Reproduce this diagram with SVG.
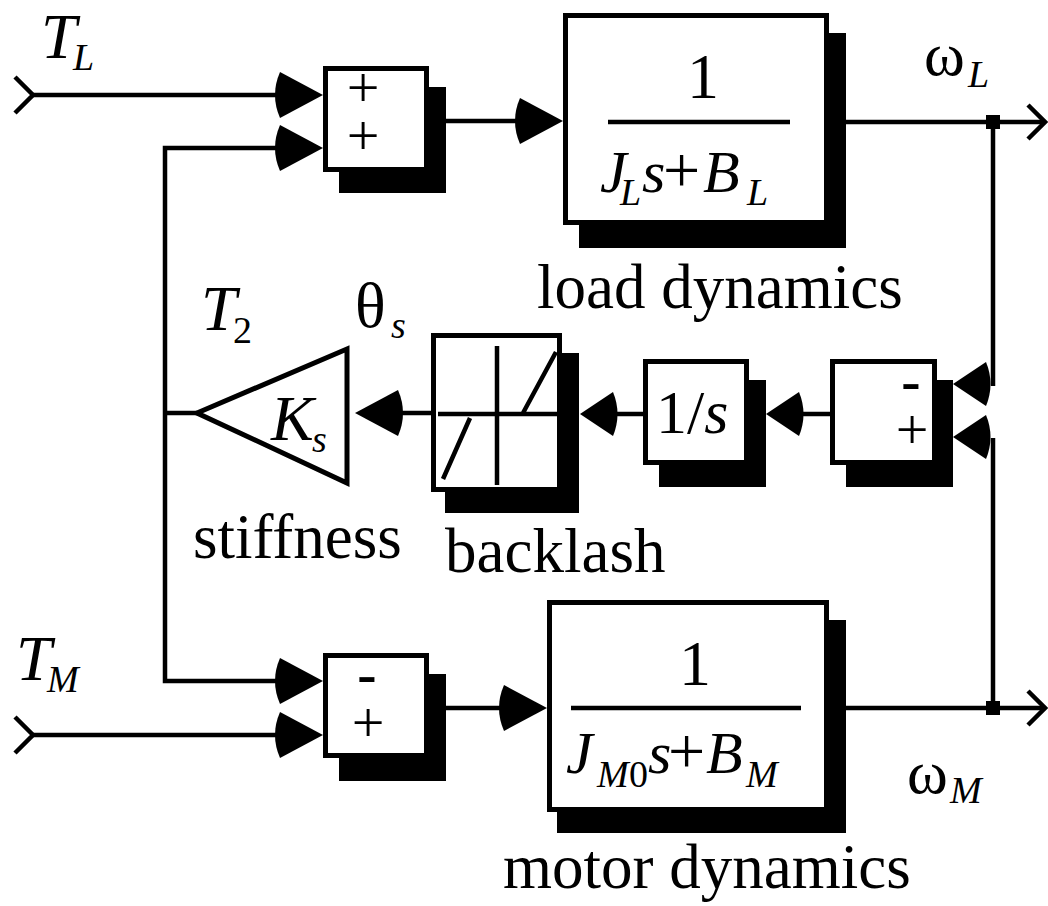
<svg xmlns="http://www.w3.org/2000/svg" xmlns:xlink="http://www.w3.org/1999/xlink" width="1048" height="906" viewBox="0 0 1048 906">
<style>
.box{fill:#fff;stroke:#000;stroke-width:5}
.sh{fill:#000}
.ln{fill:none;stroke:#000;stroke-width:4.5}
.t{font-family:"Liberation Serif","Times New Roman",serif;fill:#000}
.it{font-style:italic}
.sg{font-family:"Liberation Serif","Times New Roman",serif;font-size:58px;text-anchor:middle}
.bd{font-weight:bold}
.lb{font-family:"Liberation Serif","Times New Roman",serif;font-size:63px}
</style>
<defs>
<path id="a" d="M0,0 L-43,-23 Q-53,0 -43,23 Z" fill="#000"/>
<path id="b" d="M0,0 L-33,-22 Q-42,0 -33,22 Z" fill="#000"/>
</defs>
<g id="connectors">
<path class="ln" d="M33,95 H280"/>
<path class="ln" d="M280,148 H165 V681 H280"/>
<path class="ln" d="M165,413 H197"/>
<path class="ln" d="M33,735 H280"/>
<path class="ln" d="M446,121 H518"/>
<path class="ln" d="M446,708 H502"/>
<path class="ln" d="M846,122 H1045"/>
<path class="ln" d="M846,708 H1045"/>
<path class="ln" d="M993,122 V386"/>
<path class="ln" d="M993,438 V708"/>
<path class="ln" d="M830,414 H800"/>
<path class="ln" d="M643,414 H614"/>
<path class="ln" d="M431,413 H400"/>
<polyline class="ln" points="15,77 33,95 15,113"/>
<polyline class="ln" points="15,717 33,735 15,753"/>
<polyline class="ln" points="1028,105 1045,122 1028,139"/>
<polyline class="ln" points="1028,691 1045,708 1028,725"/>
<rect x="986" y="115" width="14" height="14" fill="#000"/>
<rect x="986" y="701" width="14" height="14" fill="#000"/>
<use xlink:href="#a" href="#a" transform="translate(323,95)"/>
<use xlink:href="#a" href="#a" transform="translate(323,148)"/>
<use xlink:href="#a" href="#a" transform="translate(323,681)"/>
<use xlink:href="#a" href="#a" transform="translate(323,735)"/>
<use xlink:href="#a" href="#a" transform="translate(563,121)"/>
<use xlink:href="#a" href="#a" transform="translate(547,708)"/>
<use xlink:href="#a" href="#a" transform="translate(355,413) rotate(180)"/>
<use xlink:href="#b" href="#b" transform="translate(580,414) rotate(180)"/>
<use xlink:href="#b" href="#b" transform="translate(766,414) rotate(180)"/>
<use xlink:href="#b" href="#b" transform="translate(953,384) rotate(180)"/>
<use xlink:href="#b" href="#b" transform="translate(953,437) rotate(180)"/>
</g>
<g id="input-TL">
<text class="t it" x="41" y="58" font-size="64">T<tspan x="73" y="70" font-size="38">L</tspan></text>
</g>
<g id="input-TM">
<text class="t it" x="16" y="680" font-size="64">T<tspan x="47" y="692" font-size="38">M</tspan></text>
</g>
<g id="sum-load">
<rect class="sh" x="339" y="87" width="107" height="106"/>
<rect class="box" x="325.5" y="68.5" width="101" height="101"/>
<text class="sg"><tspan x="363" y="107">+</tspan><tspan x="363" y="155">+</tspan></text>
</g>
<g id="load-dynamics">
<rect class="sh" x="579" y="33" width="267" height="215"/>
<rect class="box" x="565.5" y="15.5" width="261" height="207"/>
<text class="t" x="703" y="98" font-size="64" text-anchor="middle">1</text>
<line class="ln" x1="608" y1="122" x2="790" y2="122" stroke-width="5"/>
<text class="t" font-size="60"><tspan class="it" x="600" y="192">J</tspan><tspan class="it" x="620" y="205" font-size="38">L</tspan><tspan class="it" x="642" y="192">s</tspan><tspan x="663" y="192" font-size="66">+</tspan><tspan class="it" x="703" y="192">B</tspan><tspan class="it" x="747" y="205" font-size="38">L</tspan></text>
<text class="lb" x="537" y="308">load dynamics</text>
</g>
<g id="omega-L">
<text class="t" x="924" y="75" font-size="62">ω<tspan class="it" x="968" y="87" font-size="38">L</tspan></text>
</g>
<g id="stiffness">
<polygon points="197,413 347,349 347,483" fill="#fff" stroke="#000" stroke-width="5"/>
<text class="t it" x="271" y="440" font-size="64">K<tspan x="312" y="452" font-size="38">s</tspan></text>
<text class="lb" x="193" y="558">stiffness</text>
</g>
<g id="torque-T2">
<text class="t it" x="201" y="330" font-size="64">T<tspan x="233" y="343" font-size="38" font-style="normal">2</tspan></text>
</g>
<g id="theta-s">
<text class="t" x="355" y="327" font-size="64">θ<tspan class="it" x="391" y="338" font-size="38">s</tspan></text>
</g>
<g id="backlash">
<rect class="sh" x="445" y="353" width="134" height="160"/>
<rect class="box" x="433.5" y="335.5" width="126" height="154"/>
<path class="ln" d="M438,414 H558 M497,346 V485 M443,479 L470,418 M523,413 L556,352"/>
<text class="lb" x="445" y="572">backlash</text>
</g>
<g id="integrator">
<rect class="sh" x="659" y="380" width="107" height="107"/>
<rect class="box" x="645.5" y="361.5" width="101" height="101"/>
<text class="t" font-size="62" x="656" y="433">1/<tspan class="it">s</tspan></text>
</g>
<g id="sum-diff">
<rect class="sh" x="846" y="380" width="107" height="107"/>
<rect class="box" x="832.5" y="361.5" width="102" height="101"/>
<text class="sg"><tspan class="bd" x="911" y="400">-</tspan><tspan x="912" y="449">+</tspan></text>
</g>
<g id="sum-motor">
<rect class="sh" x="339" y="674" width="107" height="107"/>
<rect class="box" x="325.5" y="655.5" width="101" height="100"/>
<text class="sg"><tspan class="bd" x="367" y="693">-</tspan><tspan x="368" y="742">+</tspan></text>
</g>
<g id="motor-dynamics">
<rect class="sh" x="557" y="620" width="289" height="213"/>
<rect class="box" x="549.5" y="602.5" width="277" height="207"/>
<text class="t" x="695" y="685" font-size="64" text-anchor="middle">1</text>
<line class="ln" x1="571" y1="708" x2="801" y2="708" stroke-width="5"/>
<text class="t" font-size="60"><tspan class="it" x="566" y="773">J</tspan><tspan class="it" x="597" y="787" font-size="38">M</tspan><tspan x="629" y="787" font-size="38">0</tspan><tspan class="it" x="648" y="773">s</tspan><tspan x="668" y="773" font-size="66">+</tspan><tspan class="it" x="706" y="773">B</tspan><tspan class="it" x="746" y="787" font-size="38">M</tspan></text>
<text class="lb" x="503" y="888">motor dynamics</text>
</g>
<g id="omega-M">
<text class="t" x="907" y="793" font-size="62">ω<tspan class="it" x="950" y="803" font-size="38">M</tspan></text>
</g>
</svg>
